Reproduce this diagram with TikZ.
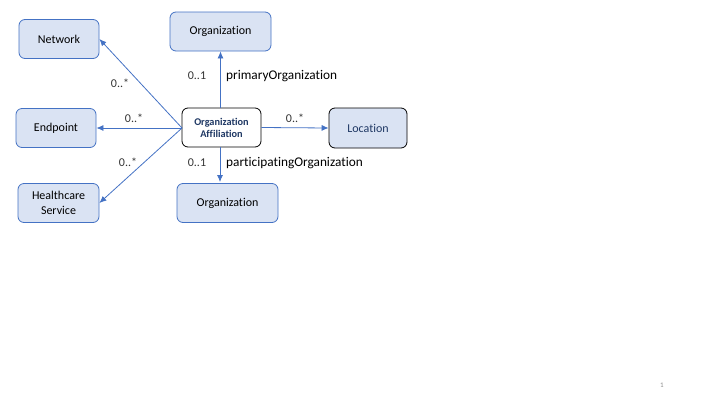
\documentclass[tikz,border=0pt]{standalone}
\usepackage{fontspec}
\setmainfont[Ligatures=NoCommon]{Carlito}
\usetikzlibrary{arrows.meta}
\definecolor{boxfill}{HTML}{DAE3F3}
\definecolor{boxline}{HTML}{4472C4}
\definecolor{navy}{HTML}{1F3864}
\begin{document}
\begin{tikzpicture}[x=1pt,y=-1pt,
  cls/.style={draw=boxline,fill=boxfill,rounded corners=6pt,line width=0.8pt,
    minimum width=80pt,minimum height=39pt,align=center,font=\fontsize{12}{14}\selectfont,inner sep=1pt},
  conn/.style={draw=boxline,line width=0.8pt,-{Latex[length=7pt,width=6pt]}},
  lbl/.style={font=\fontsize{12}{14}\selectfont,text=black!80,inner sep=0pt},
  rl/.style={font=\fontsize{13.3}{15}\selectfont,inner sep=0pt,anchor=west}]
\useasboundingbox (0,0) rectangle (720,405);
\node[cls] (net) at (59,39) {Network};
\node[cls,minimum width=101pt] (orgt) at (220.5,31.5) {Organization};
\node[cls] (ep) at (56,128) {Endpoint};
\node[cls,minimum width=79pt,fill=white,draw=black,font=\bfseries\fontsize{10.3}{12}\selectfont,text=navy] (oa) at (221.5,127.5) {Organization\\Affiliation};
\node[cls,minimum width=78pt,minimum height=40pt,draw=black,text=navy] (loc) at (368,128) {Location};
\node[cls,minimum width=81pt,font=\fontsize{12}{15}\selectfont] (hs) at (58.5,203) {Healthcare\\Service};
\node[cls,minimum width=101pt] (orgb) at (227.5,203) {Organization};
\coordinate (oaw) at (182,128);
\draw[conn] (oaw) -- (net.east);
\draw[conn] (oaw) -- (ep.east);
\draw[conn] (oaw) -- (hs.east);
\draw[conn] (oa.north -| orgt.south) -- (orgt.south);
\draw[conn] (oa.south -| 220,0) -- (220,182) coordinate (ob);
\draw[conn] (oa.east) -- (loc.west);
\node[lbl] (l1) at (120,83) {0..*};
\node[lbl] (l2) at (134,118) {0..*};
\node[lbl] (l3) at (128,162) {0..*};
\node[lbl] (l4) at (295,118) {0..*};
\node[lbl] (l5) at (197,76) {0..1};
\node[lbl] (l6) at (197,163) {0..1};
\node[rl] (r1) at (226,76) {primaryOrganization};
\node[rl] (r2) at (226,163) {participatingOrganization};
\node[font=\fontsize{7}{8}\selectfont,text=black!45] (pg) at (662,385) {1};
\end{tikzpicture}
\end{document}
